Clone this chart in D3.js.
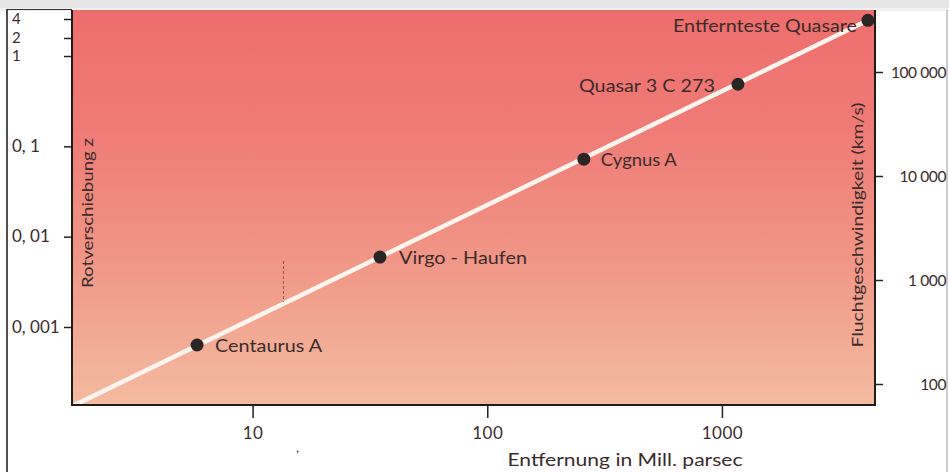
<!DOCTYPE html>
<html>
<head>
<meta charset="utf-8">
<script src="https://cdn.jsdelivr.net/npm/d3@7"></script>
<style>
  html, body { margin: 0; padding: 0; background: #ffffff; }
  svg { display: block; }
  text { font-family: Lato, "Open Sans", sans-serif; fill: #3a2c2c; }
</style>
</head>
<body>
<svg id="chart" width="949" height="472"></svg>
<script>
// ---- data ----
const objects = ["Centaurus A", "Virgo - Haufen", "Cygnus A", "Quasar 3 C 273", "Entfernteste Quasare"];
const distanceMpc = [5.8, 34.9, 258, 1170, 4190];
const velocityKms = [237, 1660, 14500, 76200, 314000];
const lineDistance = [1.70, 4190];
const lineVelocity = [61, 314000];
const xTicks = [10, 100, 1000];
const xTickLabels = ["10", "100", "1000"];
const zTicks = [0.001, 0.01, 0.1, 1, 2, 4];
const zTickLabels = ["0, 001", "0, 01", "0, 1", "1", "2", "4"];
const vTicks = [100, 1000, 10000, 100000];
const vTickLabels = ["100", "1 000", "10 000", "100 000"];
const xTitle = "Entfernung in Mill. parsec";
const zTitle = "Rotverschiebung z";
const vTitle = "Fluchtgeschwindigkeit (km/s)";

// ---- layout ----
const L = 72, R = 875, T = 10, B = 405;
const svg = d3.select("#chart");

// page scan background
svg.append("rect").attr("x", 0).attr("y", 0).attr("width", 949).attr("height", 10).attr("fill", "#e6e6e6");
svg.append("rect").attr("x", 0).attr("y", 8).attr("width", 949).attr("height", 3).attr("fill", "#f1f1f1");

const defs = svg.append("defs");
const grad = defs.append("linearGradient").attr("id", "bg").attr("x1", 0).attr("y1", 0).attr("x2", 0).attr("y2", 1);
[[0, "#ee6d6d"], [0.3, "#ef7b76"], [0.6, "#f09384"], [0.85, "#f2ac95"], [1, "#f4bba1"]]
  .forEach(([o, c]) => grad.append("stop").attr("offset", o).attr("stop-color", c));
defs.append("clipPath").attr("id", "clip").append("rect")
  .attr("x", L).attr("y", T).attr("width", R - L).attr("height", B - T);

// scales
const x = d3.scaleLog().domain([1.70, 4490]).range([L, R]);
const yV = d3.scaleLog().domain([100, 100000]).range([384, 72]);
const yZ = d3.scaleLog().domain([0.001, 1, 2, 4]).range([327, 56, 38, 19]);

// plot background
svg.append("rect").attr("x", L).attr("y", T).attr("width", R - L).attr("height", B - T).attr("fill", "url(#bg)");

// outer frame (left)
svg.append("line").attr("x1", 7).attr("x2", 7).attr("y1", 9).attr("y2", 472).attr("stroke", "#222").attr("stroke-width", 1.6);
svg.append("line").attr("x1", 7).attr("x2", L).attr("y1", 9.5).attr("y2", 9.5).attr("stroke", "#333").attr("stroke-width", 1.2);
svg.append("line").attr("x1", 947).attr("x2", 947).attr("y1", 10).attr("y2", 472).attr("stroke", "#9a9a9a").attr("stroke-width", 1);

// Hubble line
const lineData = lineDistance.map((d, i) => [d, lineVelocity[i]]);
svg.append("path")
  .attr("clip-path", "url(#clip)")
  .attr("d", d3.line().x(d => x(d[0])).y(d => yV(d[1]))(lineData))
  .attr("fill", "none").attr("stroke", "#fdf4ef").attr("stroke-width", 4.5);

// scan artefacts
svg.append("line").attr("x1", 283.5).attr("x2", 283.5).attr("y1", 261).attr("y2", 302)
  .attr("stroke", "#6a3a3a").attr("stroke-width", 1).attr("stroke-dasharray", "3,2").attr("opacity", 0.7);
svg.append("text").attr("x", 296).attr("y", 452).attr("font-size", 13).text(",");

// points
const pts = objects.map((n, i) => ({ name: n, d: distanceMpc[i], v: velocityKms[i] }));
svg.selectAll("circle.pt").data(pts).join("circle").attr("class", "pt")
  .attr("cx", p => x(p.d)).attr("cy", p => yV(p.v)).attr("r", 6.5).attr("fill", "#2a2626");

// labels
const labelSide = ["start", "start", "start", "end", "end"];
const labelDx = [18, 19, 17, -23, -11];
const labelW = [107, 128, 76, 136, 184];
svg.selectAll("text.lbl").data(pts).join("text").attr("class", "lbl")
  .attr("x", (p, i) => x(p.d) + labelDx[i])
  .attr("y", (p, i) => yV(p.v) + (i === 4 ? 5.5 : 1.5))
  .attr("dy", "0.35em")
  .attr("text-anchor", (p, i) => labelSide[i])
  .attr("font-size", 16.5)
  .attr("textLength", (p, i) => labelW[i]).attr("lengthAdjust", "spacingAndGlyphs")
  .text(p => p.name);

// axes
function styleAxis(g) {
  g.select(".domain").remove();
  g.selectAll(".tick line").attr("stroke", "#222").attr("stroke-width", 1.5);
  g.selectAll(".tick text").attr("font-size", 17).attr("fill", "#2e2a2a").attr("font-family", "Lato, sans-serif");
}
const gx = svg.append("g").attr("transform", `translate(0,${B})`)
  .call(d3.axisBottom(x).tickValues(xTicks).tickFormat((d, i) => xTickLabels[i]).tickSize(13).tickPadding(9));
styleAxis(gx);
gx.selectAll(".tick text").attr("letter-spacing", 0.5);

const gz = svg.append("g").attr("transform", `translate(${L},0)`)
  .call(d3.axisLeft(yZ).tickValues(zTicks).tickFormat((d, i) => zTickLabels[i]).tickSize(8));
styleAxis(gz);
gz.selectAll(".tick text").attr("text-anchor", "start").attr("x", 12 - L).attr("dy", "0.3em")
  .attr("font-size", d => d >= 1 ? 15 : 17);

const gv = svg.append("g").attr("transform", `translate(${R},0)`)
  .call(d3.axisRight(yV).tickValues(vTicks).tickFormat((d, i) => vTickLabels[i]).tickSize(8));
styleAxis(gv);
gv.selectAll(".tick text").attr("text-anchor", "end").attr("x", 946 - R).attr("dy", "0.35em")
  .attr("font-size", 15.5).attr("letter-spacing", -0.4);

// plot frame
svg.append("path").attr("d", `M${L},${T}V${B}H${R}V${T}`)
  .attr("fill", "none").attr("stroke", "#1f1c1c").attr("stroke-width", 2);

// titles
svg.append("text").attr("transform", "translate(93,213) rotate(-90)")
  .attr("text-anchor", "middle").attr("font-size", 15.5).attr("textLength", 150).attr("lengthAdjust", "spacingAndGlyphs")
  .text(zTitle);
svg.append("text").attr("transform", "translate(863,225) rotate(-90)")
  .attr("text-anchor", "middle").attr("font-size", 16).attr("textLength", 245).attr("lengthAdjust", "spacingAndGlyphs")
  .text(vTitle);
svg.append("text").attr("x", 625).attr("y", 466)
  .attr("text-anchor", "middle").attr("font-size", 17.5).attr("textLength", 235).attr("lengthAdjust", "spacingAndGlyphs")
  .text(xTitle);
</script>
</body>
</html>
